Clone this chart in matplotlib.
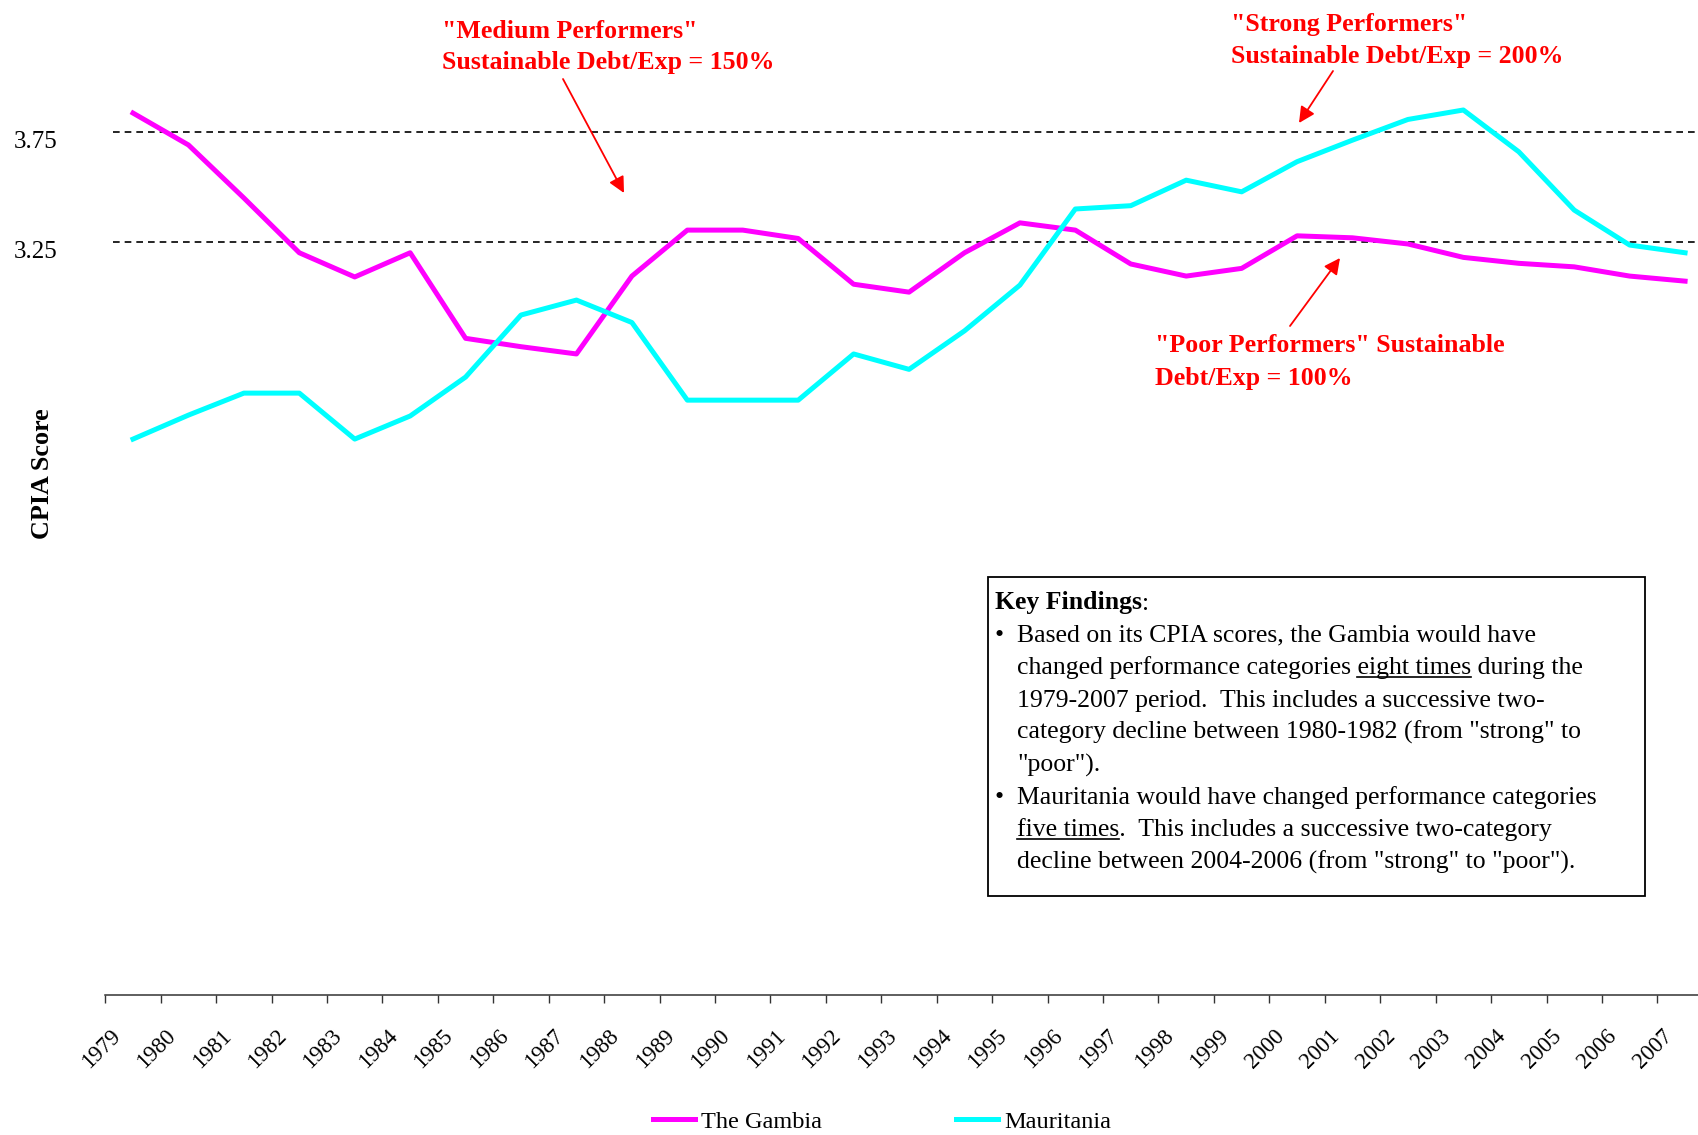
import matplotlib
matplotlib.use("Agg")
import matplotlib.pyplot as plt
from matplotlib.patches import Rectangle
from matplotlib.transforms import ScaledTranslation

# CPIA scores, 1979-2007
years = [str(y) for y in range(1979, 2008)]
gambia = [3.835, 3.69, 3.449, 3.2, 3.09, 3.2, 2.811, 2.773, 2.74, 3.094,
          3.303, 3.303, 3.265, 3.057, 3.021, 3.2, 3.336, 3.303, 3.149, 3.094,
          3.129, 3.277, 3.268, 3.24, 3.179, 3.152, 3.136, 3.094, 3.071]
mauritania = [2.353, 2.462, 2.562, 2.562, 2.353, 2.458, 2.635, 2.917, 2.985, 2.883,
              2.53, 2.53, 2.53, 2.74, 2.67, 2.845, 3.053, 3.399, 3.414, 3.53,
              3.477, 3.614, 3.712, 3.806, 3.849, 3.659, 3.394, 3.235, 3.2]
thresholds = [3.75, 3.25]
threshold_labels = ["3.75", "3.25"]

W, H = 1699, 1135
RED = "#ff0000"
plt.rcParams['font.family'] = ['Liberation Serif', 'DejaVu Serif']

fig = plt.figure(figsize=(W / 100, H / 100), dpi=100)
ax = fig.add_axes([105.3 / W, 1 - 995 / H, 1607.5 / W, 995 / H])

x = list(range(len(years)))
ax.plot(x, gambia, color='#ff00ff', lw=3.6, label='The Gambia')
ax.plot(x, mauritania, color='#00ffff', lw=3.6, label='Mauritania')

for t in thresholds:
    ax.axhline(t, xmin=0.0046, color='black', lw=1.2, ls=(0, (4, 3)), zorder=1)

ax.set_xlim(-0.5, len(years) - 0.5)
ax.set_ylim(-0.174, 4.349)
for s in ['top', 'right', 'left']:
    ax.spines[s].set_visible(False)
ax.spines['bottom'].set_color('#333333')
ax.spines['bottom'].set_linewidth(1.1)

# tick marks between categories, year labels at the category centres
ax.set_xticks([i - 0.5 for i in range(len(years) + 1)])
ax.set_xticklabels([])
ax.tick_params(axis='x', which='major', length=5.8, width=1, color='#333333')
ax.set_xticks(x, labels=years, minor=True)
ax.tick_params(axis='x', which='minor', length=0, pad=27.5, labelsize=16.5)
shift = ScaledTranslation(-0.16, 0, fig.dpi_scale_trans)
for lab in ax.get_xticklabels(minor=True):
    lab.set_rotation(45)
    lab.set_ha('right')
    lab.set_va('center')
    lab.set_rotation_mode('anchor')
    lab.set_transform(lab.get_transform() + shift)

ax.set_yticks([])
ylab_tr = ax.get_yaxis_transform() + ScaledTranslation(0, -0.10, fig.dpi_scale_trans)
for t, lab in zip(thresholds, threshold_labels):
    ax.text(-0.03, t, lab, transform=ylab_tr, ha='right', va='center', fontsize=18)

fig.text(43 / W, 1 - 474 / H, 'CPIA Score', rotation=90, fontweight='bold',
         fontsize=18.8, ha='center', va='center')

# red annotations with arrows
notes = [
    (442, 31, '"Medium Performers"'), (442, 63, 'Sustainable Debt/Exp = 150%'),
    (1231, 25, '"Strong Performers"'), (1231, 56, 'Sustainable Debt/Exp = 200%'),
    (1155, 346, '"Poor Performers" Sustainable'), (1155, 378, 'Debt/Exp = 100%'),
]
for nx, ny, s in notes:
    fig.text(nx / W, 1 - ny / H, s, color=RED, fontweight='bold', fontsize=18.6,
             ha='left', va='center')

arrows = [((563, 79), (624, 193)), ((1333, 71), (1299, 123)), ((1290, 326), (1340, 258))]
for (x0, y0), (x1, y1) in arrows:
    ax.annotate('', xy=(x1, H - y1), xytext=(x0, H - y0), xycoords='figure pixels',
                textcoords='figure pixels',
                arrowprops=dict(arrowstyle='-|>', color=RED, lw=1.3, mutation_scale=24,
                                shrinkA=0, shrinkB=0))

# key findings box
fig.add_artist(Rectangle((988 / W, 1 - 895.5 / H), (1645 - 988) / W, (895.5 - 577) / H,
                         transform=fig.transFigure, fill=False, edgecolor='black', lw=1.3))

FS = 18.5
renderer = fig.canvas.get_renderer()


def width(s, **kw):
    t = fig.text(0, 0, s, fontsize=FS, **kw)
    w = t.get_window_extent(renderer).width
    t.remove()
    return w


space_w = width('a a') - width('aa')

line_y = [602.5 + 32.35 * k for k in range(9)]
base = [y + 7 for y in line_y]

# "Key Findings:"
fig.text(995 / W, 1 - base[0] / H, 'Key Findings', fontsize=FS, fontweight='bold', va='baseline')
kf_w = width('Key Findings', fontweight='bold')
fig.text((995 + kf_w) / W, 1 - base[0] / H, ':', fontsize=FS, va='baseline')

lines = [
    (1, True, 'Based on its CPIA scores, the Gambia would have', None),
    (2, False, 'changed performance categories eight times during the', 'eight times'),
    (3, False, '1979-2007 period.  This includes a successive two-', None),
    (4, False, 'category decline between 1980-1982 (from "strong" to', None),
    (5, False, '"poor").', None),
    (6, True, 'Mauritania would have changed performance categories', None),
    (7, False, 'five times.  This includes a successive two-category', 'five times'),
    (8, False, 'decline between 2004-2006 (from "strong" to "poor").', None),
]
tx = 1017
for k, bullet, s, under in lines:
    yb = base[k]
    if bullet:
        fig.text(995 / W, 1 - yb / H, '\u2022', fontsize=FS, va='baseline')
    fig.text(tx / W, 1 - yb / H, s, fontsize=FS, va='baseline')
    if under:
        pre = s[:s.index(under)]
        x0 = tx + (width(pre.rstrip()) + (len(pre) - len(pre.rstrip())) * space_w if pre else 0)
        x1 = x0 + width(under)
        fig.add_artist(plt.Line2D([x0 / W, x1 / W], [1 - (yb + 3) / H] * 2,
                                  transform=fig.transFigure, color='black', lw=1.2))

fig.legend(loc='center', bbox_to_anchor=(882 / W, 13.5 / H), ncol=2, frameon=False,
           fontsize=17.5, handlelength=1.74, handletextpad=0.26, columnspacing=5.5)

fig.savefig('out.png', dpi=100)
